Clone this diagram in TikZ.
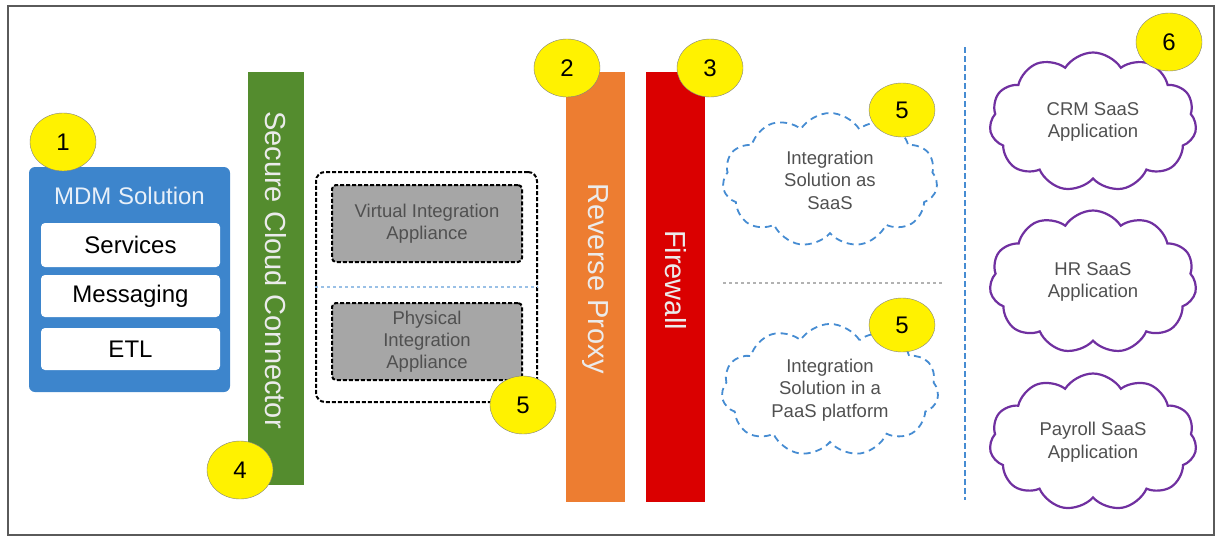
\documentclass[tikz,border=0pt]{standalone}
\usepackage{fontspec}
\setmainfont{Liberation Sans}
\usetikzlibrary{shapes.geometric,shapes.symbols}

\definecolor{mdmblue}{RGB}{61,133,204}
\definecolor{barGreen}{RGB}{84,140,46}
\definecolor{barOrange}{RGB}{237,125,49}
\definecolor{barRed}{RGB}{218,0,0}
\definecolor{applGray}{RGB}{166,166,166}
\definecolor{textGray}{RGB}{80,80,80}
\definecolor{lineBlue}{RGB}{70,140,210}
\definecolor{saasPurple}{RGB}{112,48,160}
\definecolor{frameGray}{RGB}{90,90,90}

\begin{document}
\begin{tikzpicture}[x=1pt, y=-1pt,
    badge/.style={ellipse, draw=gray, fill=yellow, minimum width=66pt, minimum height=58pt, inner sep=0pt, font=\fontsize{24}{24}\selectfont},
    layer/.style={inner sep=0pt, minimum width=201pt, minimum height=42pt, draw=none, fill=white, rounded corners=4pt, font=\fontsize{24}{24}\selectfont},
    bar/.style={inner sep=0pt, minimum width=59pt},
    bartext/.style={rotate=-90, text=white!92!black, font=\fontsize{29}{29}\selectfont},
    appliance/.style={draw=black, line width=2pt, dash pattern=on 4pt off 2pt, fill=applGray, rounded corners=4pt, minimum width=190pt, minimum height=77pt, text=textGray, align=center, font=\fontsize{18.5}{22}\selectfont},
    intcloud/.style={cloud, cloud puffs=11, cloud puff arc=115, aspect=1.6, draw=lineBlue, line width=1.8pt, dash pattern=on 7pt off 5pt, text=textGray, align=center, font=\fontsize{18.5}{22.5}\selectfont},
    appcloud/.style={cloud, cloud puffs=11, cloud puff arc=115, aspect=1.5, draw=saasPurple, line width=2.2pt, fill=white, text=textGray, align=center, font=\fontsize{18.5}{22.5}\selectfont}]

    \useasboundingbox (0,0) rectangle (1218,538);
    \draw[frameGray, line width=1.5pt] (8,6) rectangle (1214,535); % frame

    % MDM solution
    \node[fill=mdmblue, rounded corners=6pt, minimum width=201pt, minimum height=225pt, inner sep=0pt] (mdm) at (129.5,279.5) {};
    \node[text=white!88!mdmblue, font=\fontsize{24}{24}\selectfont] (mdmtitle) at (129.5,196) {MDM Solution};
    \node[layer, minimum width=179pt, minimum height=44pt] (services) at (130.5,245) {Services};
    \node[layer, minimum width=179pt] (messaging) at (130.5,296) {Messaging};
    \node[layer, minimum width=179pt] (etl) at (130.5,349) {ETL};

    % connector and the two layers
    \node[bar, fill=barGreen, minimum width=56pt, minimum height=413pt] (connector) at (276,278.5) {};
    \node[bartext] (connectortext) at (276,270) {Secure Cloud Connector};
    \node[bar, fill=barOrange, minimum height=430pt] (proxy) at (595.5,287) {};
    \node[bartext] (proxytext) at (595.5,278.5) {Reverse Proxy};
    \node[bar, fill=barRed, minimum height=430pt] (firewall) at (675.5,287) {};
    \node[bartext] (firewalltext) at (675.5,280) {Firewall};

    % appliances
    \node[draw=black, line width=2pt, dash pattern=on 4pt off 2pt, rounded corners=9pt, minimum width=221pt, minimum height=230pt, inner sep=0pt] (onprem) at (426.5,287) {};
    \node[appliance] (virtual) at (427,223.5) {Virtual Integration\\Appliance};
    \node[appliance] (physical) at (427,341.5) {Physical\\Integration\\Appliance};
    \coordinate (sepL) at (onprem.west);
    \coordinate (sepR) at (onprem.east);
    \draw[lineBlue!55, line width=1.2pt, dash pattern=on 3pt off 3pt] (sepL) -- (sepR);

    % integration clouds
    \node[intcloud, minimum width=215pt, minimum height=134pt] (saas) at (830,180) {Integration\\Solution as\\SaaS};
    \node[intcloud, minimum width=217pt, minimum height=132pt] (paas) at (830,390) {Integration\\Solution in a\\PaaS platform};
    \coordinate (midL) at (723,283);
    \coordinate (midR) at (943,283);
    \draw[gray!60, line width=1.5pt, dash pattern=on 3pt off 3pt] (midL) -- (midR);

    % SaaS applications
    \coordinate (vtop) at (965,47);
    \coordinate (vbot) at (965,500);
    \draw[lineBlue, line width=2.5pt, dash pattern=on 6pt off 3pt] (vtop) -- (vbot);
    \node[appcloud, minimum width=207pt, minimum height=139pt] (crm) at (1093,122) {CRM SaaS\\Application};
    \node[appcloud, minimum width=207pt, minimum height=143pt] (hr) at (1093,282) {HR SaaS\\Application};
    \node[appcloud, minimum width=207pt, minimum height=137pt] (payroll) at (1093,442) {Payroll SaaS\\Application};

    % numbered badges
    \node[badge] (b1) at (63,142) {1};
    \node[badge] (b2) at (567,68) {2};
    \node[badge] (b3) at (710,68) {3};
    \node[badge] (b4) at (240,470) {4};
    \node[badge] (b5) at (523,405) {5};
    \node[badge, minimum height=54pt] (b5a) at (902,110) {5};
    \node[badge, minimum height=54pt] (b5b) at (902,325) {5};
    \node[badge] (b6) at (1169,42) {6};
\end{tikzpicture}
\end{document}
